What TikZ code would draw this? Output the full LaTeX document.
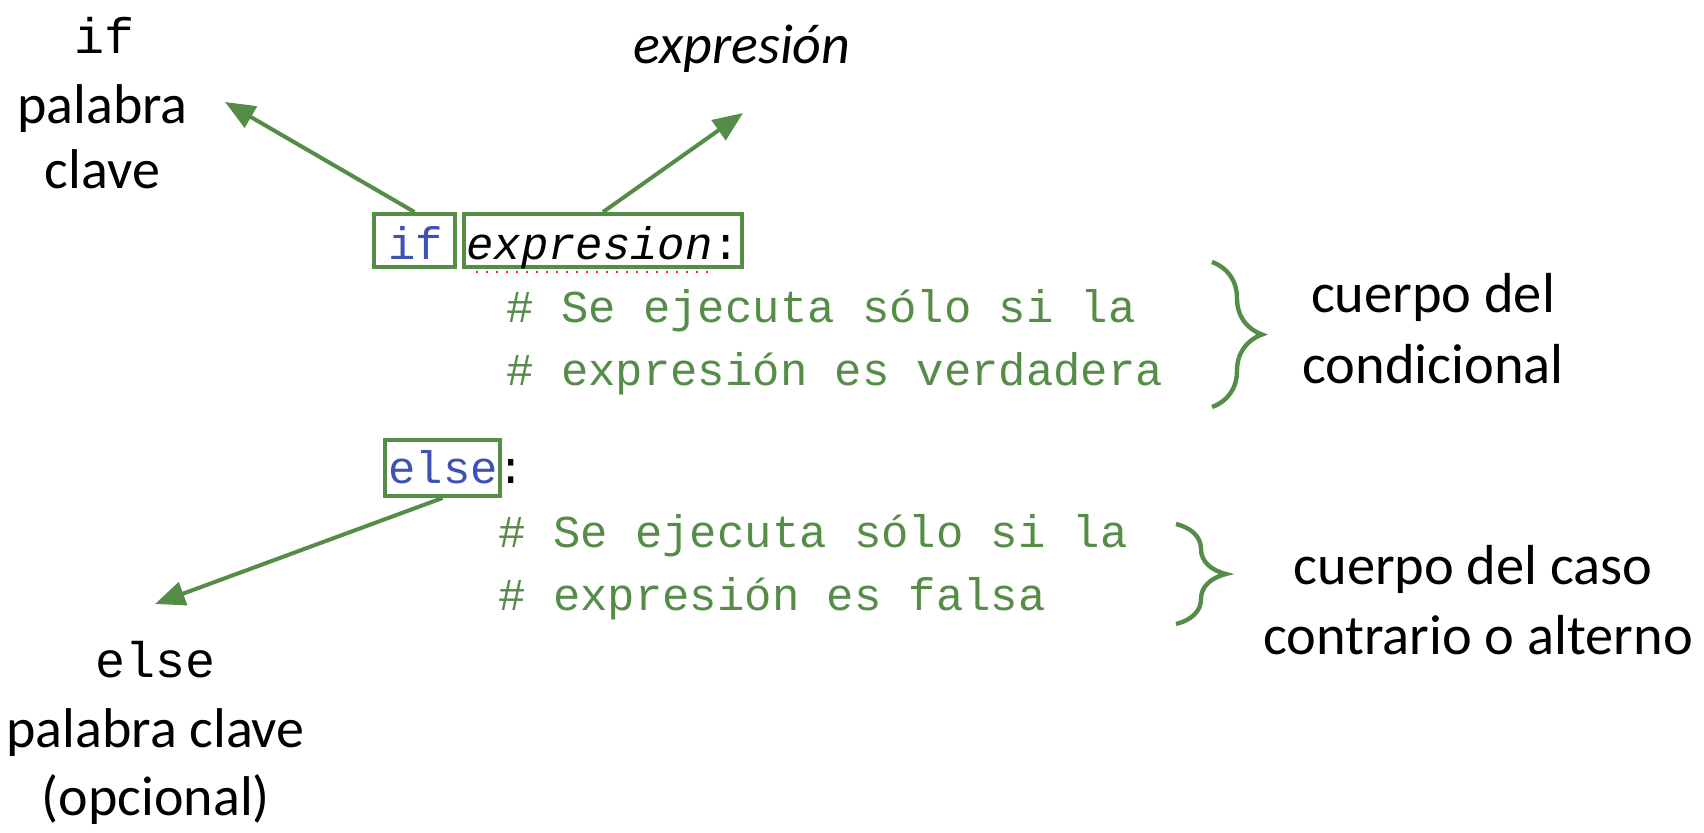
\documentclass[tikz,border=0pt]{standalone}
\usepackage{fontspec}
\setmainfont{Carlito}
\newfontfamily\codefont{Liberation Mono}
\usetikzlibrary{arrows.meta,decorations.pathreplacing}
\definecolor{gr}{RGB}{84,140,72}
\definecolor{kw}{RGB}{63,81,181}
\begin{document}
\begin{tikzpicture}[x=0.5pt,y=-0.5pt,
  biglab/.style={font=\fontsize{28}{33}\selectfont, inner sep=0, anchor=base},
  reglab/.style={font=\fontsize{28.2}{33}\selectfont, inner sep=0, anchor=base},
  monolab/.style={font=\codefont\fontsize{25}{30}\selectfont, inner sep=0, anchor=base},
  code/.style={font=\codefont\fontsize{22.8}{28}\selectfont, inner sep=0, anchor=base west},
  kbox/.style={draw=gr, line width=2pt, inner sep=0},
  arr/.style={draw=gr, line width=2pt, -{Triangle[length=15pt,width=12pt]}},
  brc/.style={draw=gr, line width=2.2pt, decorate, decoration={brace, amplitude=25pt}}]
\useasboundingbox (0,0) rectangle (1704,832);

% code boxes
\node[kbox, minimum width=40.5pt, minimum height=26.5pt] (ifbox) at (414.5,240.5) {};
\node[kbox, minimum width=139pt, minimum height=26.5pt] (exprbox) at (603,240.5) {};
\node[kbox, minimum width=57.5pt, minimum height=28pt] (elsebox) at (442.5,468) {};

% code text
\node[code, text=kw] (ifkw) at (388,259) {if};
\node[code] (exprtxt) at (466,259) {\itshape expresion\upshape:};
\draw[red!85, line width=0.8pt, dash pattern=on 1pt off 4pt] (476,272) -- (710,272);
\node[code, text=gr] (c1) at (506,322) {\# Se ejecuta sólo si la};
\node[code, text=gr] (c2) at (506,385) {\# expresión es verdadera};
\node[code] (elsekw) at (388,483) {\textcolor{kw}{else}:};
\node[code, text=gr] (c3) at (498,547) {\# Se ejecuta sólo si la};
\node[code, text=gr] (c4) at (498,610) {\# expresión es falsa};

% braces
\draw[brc] (1212,262) -- (1212,407);
\draw[brc] (1176,524) -- (1176,624);

% labels
\node[monolab] (iflab) at (104.5,53) {if};
\node[biglab] (iflab2) at (102.5,123) {palabra};
\node[biglab] (iflab3) at (102.5,188) {clave};
\node[biglab, font=\fontsize{28}{33}\selectfont\itshape] (exprlab) at (742,63) {expresión};
\node[reglab] (body1) at (1433,312) {cuerpo del};
\node[reglab] (body2) at (1433,383) {condicional};
\node[reglab] (else1) at (1473,584) {cuerpo del caso};
\node[reglab] (else2) at (1478,654) {contrario o alterno};
\node[monolab] (elselab) at (156,677) {else};
\node[biglab] (elselab2) at (155.5,747) {palabra clave};
\node[biglab] (elselab3) at (156,815) {(opcional)};

% arrows
\coordinate (iftip) at (225,102);
\coordinate (exprtip) at (743,113);
\coordinate (elsetip) at (155,604);
\draw[arr] (ifbox.north) -- (iftip);
\draw[arr] (exprbox.north) -- (exprtip);
\draw[arr] (elsebox.south) -- (elsetip);
\end{tikzpicture}
\end{document}
